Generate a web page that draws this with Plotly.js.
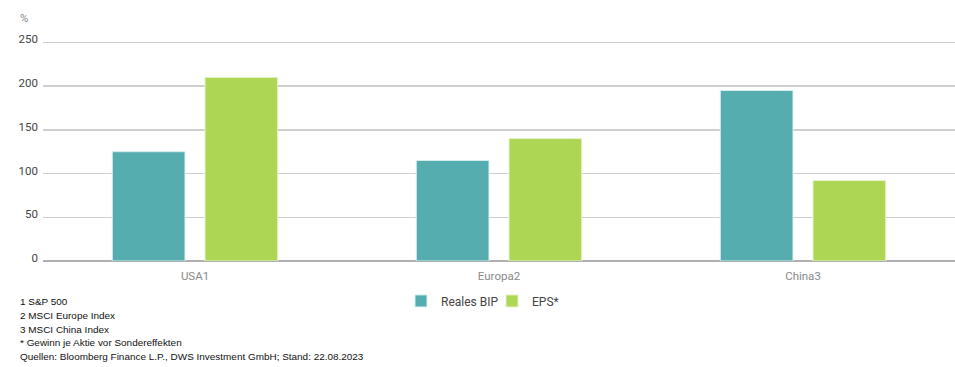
<!DOCTYPE html>
<html>
<head>
<meta charset="utf-8">
<script src="https://cdn.plot.ly/plotly-3.0.1.min.js"></script>
<style>
html,body{margin:0;padding:0;background:#fff;}
#chart{width:955px;height:367px;}
</style>
</head>
<body>
<div id="chart"></div>
<script>
const categories = ["USA1", "Europa2", "China3"];
const realesBIP = [125, 115, 195];
const eps = [210, 140, 92];
const seriesNames = ["Reales BIP", "EPS*"];
const yTicks = [0, 50, 100, 150, 200, 250];
const footnotes = [
  "1 S&P 500",
  "2 MSCI Europe Index",
  "3 MSCI China Index",
  "* Gewinn je Aktie vor Sondereffekten",
  "Quellen: Bloomberg Finance L.P., DWS Investment GmbH; Stand: 22.08.2023"
];

const W = 955, H = 367;
const mL = 43, mR = 0, mT = 37.6, mB = 106;
const plotW = W - mL - mR, plotH = H - mT - mB;
const px2x = p => (p - mL) / plotW;
const py2y = p => (H - mB - p) / plotH;

const traces = [
  {type: "bar", name: seriesNames[0], x: categories, y: realesBIP,
   marker: {color: "#56adaf", line: {color: "#d8eeee", width: 1}}, hoverinfo: "skip"},
  {type: "bar", name: seriesNames[1], x: categories, y: eps,
   marker: {color: "#add653", line: {color: "#e6f3cc", width: 1}}, hoverinfo: "skip"}
];

const annotations = footnotes.map((t, i) => ({
  text: t, xref: "paper", yref: "paper",
  x: px2x(18), y: py2y(302 + i * 13.7), xanchor: "left", yanchor: "middle",
  showarrow: false, align: "left",
  font: {family: "Liberation Sans, Arial, sans-serif", size: 9.95, color: "#111"}
}));
annotations.push({
  text: "%", xref: "paper", yref: "paper", x: px2x(18), y: py2y(18),
  xanchor: "left", yanchor: "middle", showarrow: false,
  font: {family: "Roboto, sans-serif", size: 11.5, color: "#888"}
});

const layout = {
  width: W, height: H,
  margin: {l: mL, r: mR, t: mT, b: mB, pad: 0},
  paper_bgcolor: "#fff", plot_bgcolor: "#fff",
  barmode: "group", bargap: 0.39, bargroupgap: 0.216,
  font: {family: "Roboto, sans-serif", size: 12, color: "#444"},
  showlegend: true,
  legend: {orientation: "h", x: px2x(401), y: py2y(301), xanchor: "left", yanchor: "middle",
           entrywidth: 46, entrywidthmode: "pixels",
           font: {family: "Roboto, sans-serif", size: 12, color: "#444"},
           bgcolor: "rgba(0,0,0,0)", traceorder: "normal"},
  xaxis: {type: "category", showgrid: false, showline: false, zeroline: false,
          ticks: "", tickfont: {family: "Roboto, sans-serif", size: 11.5, color: "#888"},
          ticklabelstandoff: 6, fixedrange: true},
  yaxis: {range: [0, 255], tickvals: yTicks, ticktext: yTicks.map(String),
          showgrid: true, gridcolor: "#cfcfcf", gridwidth: 1.5,
          zeroline: true, zerolinecolor: "#b0b0b0", zerolinewidth: 1.5,
          showline: false, ticks: "", ticklabelshift: -3, ticklabelstandoff: 4,
          tickfont: {family: "Roboto, sans-serif", size: 11.5, color: "#444"}, fixedrange: true},
  annotations: annotations
};

Plotly.newPlot("chart", traces, layout, {displayModeBar: false, staticPlot: true});
</script>
</body>
</html>
